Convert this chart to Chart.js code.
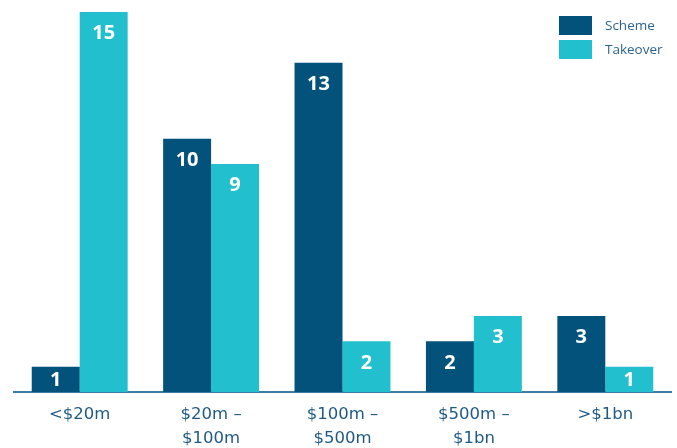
<!DOCTYPE html>
<html>
<head>
<meta charset="utf-8">
<script src="https://cdn.jsdelivr.net/npm/chart.js@4"></script>
<style>
  html, body { margin: 0; padding: 0; background: #fff; }
  #wrap { position: relative; width: 677px; height: 448px; }
  #legend { position: absolute; left: 559px; top: 13px; font-family: "Open Sans", sans-serif; font-size: 13.5px; color: #2a6690; }
  #legend div { display: flex; align-items: center; height: 24px; }
  #legend span.box { display: inline-block; width: 33px; height: 19px; margin-right: 13px; }
</style>
</head>
<body>
<div id="wrap">
  <canvas id="deal-chart" width="677" height="448"></canvas>
  <div id="legend"></div>
</div>
<script>
// Deals by size
const categories = ["<$20m", ["$20m –", "$100m"], ["$100m –", "$500m"], ["$500m –", "$1bn"], ">$1bn"];
const seriesNames = ["Scheme", "Takeover"];
const schemeCounts = [1, 10, 13, 2, 3];
const takeoverCounts = [15, 9, 2, 3, 1];
const seriesColors = ["#03527c", "#22bfcf"];

// white value labels just under the top of each bar
const barValueLabels = {
  id: "barValueLabels",
  afterDatasetsDraw(chart) {
    const ctx = chart.ctx;
    ctx.save();
    ctx.fillStyle = "#ffffff";
    ctx.font = "bold 20px 'Open Sans', sans-serif";
    ctx.textAlign = "center";
    ctx.textBaseline = "middle";
    chart.data.datasets.forEach((ds, i) => {
      chart.getDatasetMeta(i).data.forEach((bar, j) => {
        const y = Math.min(bar.y + 21.5, (bar.y + bar.base) / 2 + 1);
        ctx.fillText(ds.data[j], bar.x, y);
      });
    });
    ctx.restore();
  },
};

const chartElement = document.getElementById("deal-chart");
const dealChart = new Chart(chartElement, {
  type: "bar",
  data: {
    labels: categories,
    datasets: [
      { label: seriesNames[0], data: schemeCounts, backgroundColor: seriesColors[0] },
      { label: seriesNames[1], data: takeoverCounts, backgroundColor: seriesColors[1] },
    ],
  },
  options: {
    responsive: false,
    animation: false,
    barPercentage: 1,
    categoryPercentage: 0.73,
    layout: { padding: { left: 14, right: 6, top: 12, bottom: 0 } },
    plugins: {
      legend: { display: false },
      tooltip: { enabled: false },
    },
    scales: {
      x: {
        grid: { display: false },
        border: { display: true, color: "#3f7fa6", width: 2 },
        ticks: {
          color: "#1f5a85",
          padding: 2,
          maxRotation: 0,
          font: { family: "'DejaVu Sans', sans-serif", size: 16.5, lineHeight: 1.5 },
        },
        afterFit(scale) {
          scale.height = 56;
        },
      },
      y: {
        display: false,
        min: 0,
        max: 15,
      },
    },
  },
  plugins: [barValueLabels],
});

// legend
const legendEl = document.getElementById("legend");
seriesNames.forEach((name, i) => {
  const row = document.createElement("div");
  const box = document.createElement("span");
  box.className = "box";
  box.style.background = seriesColors[i];
  row.appendChild(box);
  row.appendChild(document.createTextNode(name));
  legendEl.appendChild(row);
});
</script>
</body>
</html>
